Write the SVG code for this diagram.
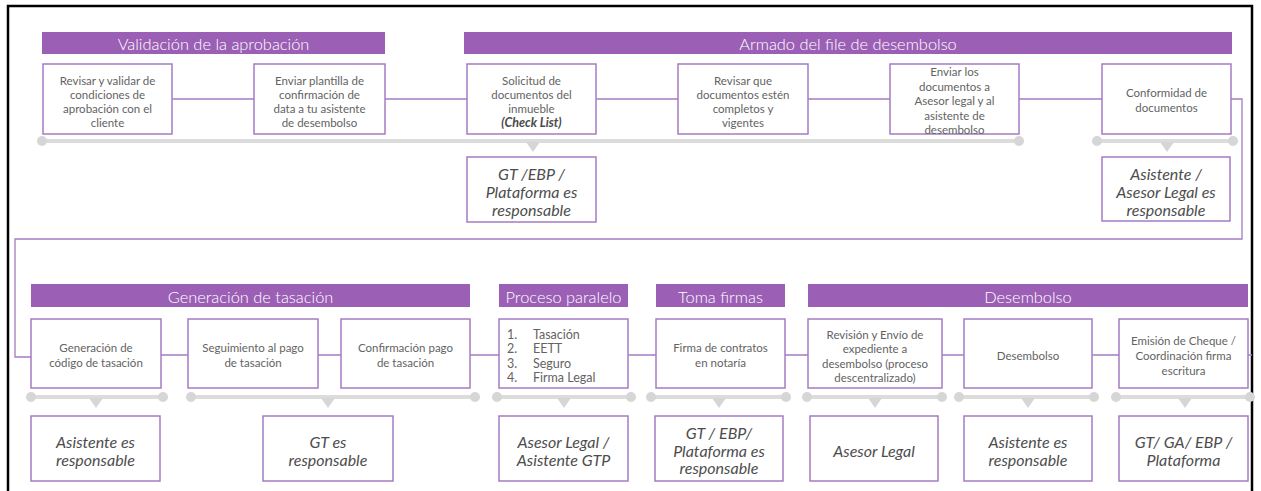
<svg xmlns="http://www.w3.org/2000/svg" width="1261" height="491" viewBox="0 0 1261 491">
<style>
.hdr{fill:#9b5fb5}
.ht{fill:#ffffff;font-family:Lato,"Open Sans",sans-serif;font-size:16.4px;font-weight:300;text-anchor:middle;dominant-baseline:central}
.box{fill:#ffffff;stroke:#a57cc4;stroke-width:1.5}
.bt{fill:#636363;font-family:Lato,"Open Sans",sans-serif;font-size:11.5px;font-weight:400;text-anchor:middle;dominant-baseline:central}
.ck{font-style:italic;font-weight:700;font-size:12.5px;fill:#4a4a4a}
.lt{fill:#636363;font-family:Lato,"Open Sans",sans-serif;font-size:12.5px;font-weight:400;dominant-baseline:central}
.rt{fill:#4d4d4d;font-family:Lato,"Open Sans",sans-serif;font-size:16px;font-style:italic;font-weight:400;text-anchor:middle;dominant-baseline:central}
.con{fill:none;stroke:#a57cc4;stroke-width:1.3}
.bar{stroke:#dcdcdc;stroke-width:4;stroke-linecap:round}
.dot{fill:#d6d6d6}
.tri{fill:#d6d6d6}
</style>
<rect x="8" y="6" width="1244" height="495" fill="#ffffff" stroke="#000000" stroke-width="2.5"/>

<g id="connectors">
<path class="con" d="M172 99H254M385 99H467M596 99H678M808 99H890M1019 99H1102"/>
<path class="con" d="M1231 99H1242V239H15V357H31"/>
<path class="con" d="M161 355H188M318 355H341M470 355H499M628 355H656M785 355H808M942 355H964M1092 355H1119M1248 355H1252"/>
</g>

<g id="timelines">
<line class="bar" x1="42" y1="141" x2="1019" y2="141"/>
<circle class="dot" cx="42" cy="141" r="5"/><circle class="dot" cx="1019" cy="141" r="5"/>
<polygon class="tri" points="526,142 540,142 533,152"/>
<line class="bar" x1="1097" y1="141" x2="1233" y2="141"/>
<circle class="dot" cx="1097" cy="141" r="5"/><circle class="dot" cx="1233" cy="141" r="5"/>
<polygon class="tri" points="1160,142 1174,142 1167,152"/>

<line class="bar" x1="31" y1="397" x2="163" y2="397"/>
<circle class="dot" cx="31" cy="397" r="5"/><circle class="dot" cx="163" cy="397" r="5"/>
<polygon class="tri" points="89,398 103,398 96,408"/>
<line class="bar" x1="191" y1="397" x2="475" y2="397"/>
<circle class="dot" cx="191" cy="397" r="5"/><circle class="dot" cx="475" cy="397" r="5"/>
<polygon class="tri" points="321,398 335,398 328,408"/>
<line class="bar" x1="497" y1="397" x2="631" y2="397"/>
<circle class="dot" cx="497" cy="397" r="5"/><circle class="dot" cx="631" cy="397" r="5"/>
<polygon class="tri" points="557,398 571,398 564,408"/>
<line class="bar" x1="651" y1="397" x2="786" y2="397"/>
<circle class="dot" cx="651" cy="397" r="5"/><circle class="dot" cx="786" cy="397" r="5"/>
<polygon class="tri" points="712,398 726,398 719,408"/>
<line class="bar" x1="807" y1="397" x2="942" y2="397"/>
<circle class="dot" cx="807" cy="397" r="5"/><circle class="dot" cx="942" cy="397" r="5"/>
<polygon class="tri" points="868,398 882,398 875,408"/>
<line class="bar" x1="959" y1="397" x2="1094" y2="397"/>
<circle class="dot" cx="959" cy="397" r="5"/><circle class="dot" cx="1094" cy="397" r="5"/>
<polygon class="tri" points="1021,398 1035,398 1028,408"/>
<line class="bar" x1="1116" y1="397" x2="1250" y2="397"/>
<circle class="dot" cx="1116" cy="397" r="5"/><circle class="dot" cx="1250" cy="397" r="5"/>
<polygon class="tri" points="1178,398 1192,398 1185,408"/>
</g>

<g id="hdr-validacion"><rect class="hdr" x="42" y="32" width="343" height="22"/><text class="ht" x="213.5" y="43">Validación de la aprobación</text></g>
<g id="hdr-armado"><rect class="hdr" x="464" y="32" width="768" height="22"/><text class="ht" x="848" y="43">Armado del file de desembolso</text></g>
<g id="hdr-tasacion"><rect class="hdr" x="31" y="284" width="439" height="23"/><text class="ht" x="250.5" y="296.5">Generación de tasación</text></g>
<g id="hdr-paralelo"><rect class="hdr" x="499" y="284" width="129" height="23"/><text class="ht" x="563.5" y="296.5">Proceso paralelo</text></g>
<g id="hdr-firmas"><rect class="hdr" x="656" y="284" width="129" height="23"/><text class="ht" x="720.5" y="296.5">Toma firmas</text></g>
<g id="hdr-desembolso"><rect class="hdr" x="808" y="284" width="440" height="23"/><text class="ht" x="1028" y="296.5">Desembolso</text></g>

<g id="t1"><rect class="box" x="43" y="64" width="129" height="70"/>
<text class="bt" x="107.5" y="80">Revisar y validar de</text><text class="bt" x="107.5" y="94.3">condiciones de</text><text class="bt" x="107.5" y="108.6">aprobación con el</text><text class="bt" x="107.5" y="122.9">cliente</text></g>
<g id="t2"><rect class="box" x="254" y="64" width="131" height="70"/>
<text class="bt" x="319.5" y="80">Enviar plantilla de</text><text class="bt" x="319.5" y="94.3">confirmación de</text><text class="bt" x="319.5" y="108.6">data  a tu asistente</text><text class="bt" x="319.5" y="122.9">de desembolso</text></g>
<g id="t3"><rect class="box" x="467" y="64" width="129" height="70"/>
<text class="bt" x="531.5" y="80">Solicitud de</text><text class="bt" x="531.5" y="94.3">documentos del</text><text class="bt" x="531.5" y="108.6">inmueble</text><text class="bt ck" x="531.5" y="122.9">(Check List)</text></g>
<g id="t4"><rect class="box" x="678" y="64" width="130" height="70"/>
<text class="bt" x="743" y="80">Revisar que</text><text class="bt" x="743" y="94.3">documentos estén</text><text class="bt" x="743" y="108.6">completos y</text><text class="bt" x="743" y="122.9">vigentes</text></g>
<g id="t5"><rect class="box" x="890" y="64" width="129" height="70"/>
<text class="bt" x="954.5" y="71.7">Enviar los</text><text class="bt" x="954.5" y="86">documentos a</text><text class="bt" x="954.5" y="100.5">Asesor legal y al</text><text class="bt" x="954.5" y="115">asistente de</text><text class="bt" x="954.5" y="129.3">desembolso</text></g>
<g id="t6"><rect class="box" x="1102" y="64" width="129" height="70"/>
<text class="bt" x="1166.5" y="92.7">Conformidad de</text><text class="bt" x="1166.5" y="107.3">documentos</text></g>

<g id="r-t3"><rect class="box" x="467" y="157" width="129" height="65"/>
<text class="rt" x="531.5" y="173">GT /EBP /</text><text class="rt" x="531.5" y="191">Plataforma es</text><text class="rt" x="531.5" y="209">responsable</text></g>
<g id="r-t6"><rect class="box" x="1102" y="157" width="128" height="64"/>
<text class="rt" x="1166" y="173">Asistente /</text><text class="rt" x="1166" y="191">Asesor Legal  es</text><text class="rt" x="1166" y="209">responsable</text></g>

<g id="b1"><rect class="box" x="31" y="319" width="130" height="69"/>
<text class="bt" x="96" y="347.3">Generación de</text><text class="bt" x="96" y="362.3">código de tasación</text></g>
<g id="b2"><rect class="box" x="188" y="319" width="130" height="69"/>
<text class="bt" x="253" y="347.3">Seguimiento al pago</text><text class="bt" x="253" y="362.3">de tasación</text></g>
<g id="b3"><rect class="box" x="341" y="319" width="129" height="69"/>
<text class="bt" x="405.5" y="347.3">Confirmación pago</text><text class="bt" x="405.5" y="362.3">de tasación</text></g>
<g id="b4"><rect class="box" x="499" y="319" width="129" height="69"/>
<text class="lt" x="507" y="334">1.</text><text class="lt" x="533" y="334">Tasación</text>
<text class="lt" x="507" y="348.5">2.</text><text class="lt" x="533" y="348.5">EETT</text>
<text class="lt" x="507" y="363">3.</text><text class="lt" x="533" y="363">Seguro</text>
<text class="lt" x="507" y="377.5">4.</text><text class="lt" x="533" y="377.5">Firma Legal</text></g>
<g id="b5"><rect class="box" x="656" y="319" width="129" height="69"/>
<text class="bt" x="720.5" y="347.3">Firma de contratos</text><text class="bt" x="720.5" y="362.3">en notaría</text></g>
<g id="b6"><rect class="box" x="808" y="319" width="134" height="69"/>
<text class="bt" x="875" y="334.3">Revisión y Envío de</text><text class="bt" x="875" y="348.7">expediente a</text><text class="bt" x="875" y="363">desembolso (proceso</text><text class="bt" x="875" y="377.3">descentralizado)</text></g>
<g id="b7"><rect class="box" x="964" y="319" width="128" height="69"/>
<text class="bt" x="1028" y="355">Desembolso</text></g>
<g id="b8"><rect class="box" x="1119" y="319" width="129" height="69"/>
<text class="bt" x="1183.5" y="340">Emisión de Cheque /</text><text class="bt" x="1183.5" y="355">Coordinación firma</text><text class="bt" x="1183.5" y="370">escritura</text></g>

<g id="r-b1"><rect class="box" x="31" y="416" width="129" height="65"/>
<text class="rt" x="95.5" y="441.5">Asistente es</text><text class="rt" x="95.5" y="459">responsable</text></g>
<g id="r-b2"><rect class="box" x="263" y="416" width="130" height="65"/>
<text class="rt" x="328" y="441.5">GT es</text><text class="rt" x="328" y="459">responsable</text></g>
<g id="r-b4"><rect class="box" x="499" y="416" width="129" height="65"/>
<text class="rt" x="563.5" y="441.5">Asesor Legal /</text><text class="rt" x="563.5" y="459">Asistente GTP</text></g>
<g id="r-b5"><rect class="box" x="655" y="416" width="128" height="65"/>
<text class="rt" x="719" y="432.7">GT / EBP/</text><text class="rt" x="719" y="450">Plataforma es</text><text class="rt" x="719" y="467.5">responsable</text></g>
<g id="r-b6"><rect class="box" x="810" y="416" width="128" height="65"/>
<text class="rt" x="874" y="450">Asesor Legal</text></g>
<g id="r-b7"><rect class="box" x="964" y="416" width="128" height="65"/>
<text class="rt" x="1028" y="441.5">Asistente  es</text><text class="rt" x="1028" y="459">responsable</text></g>
<g id="r-b8"><rect class="box" x="1119" y="416" width="129" height="65"/>
<text class="rt" x="1183.5" y="441.5">GT/ GA/ EBP /</text><text class="rt" x="1183.5" y="459">Plataforma</text></g>
</svg>
